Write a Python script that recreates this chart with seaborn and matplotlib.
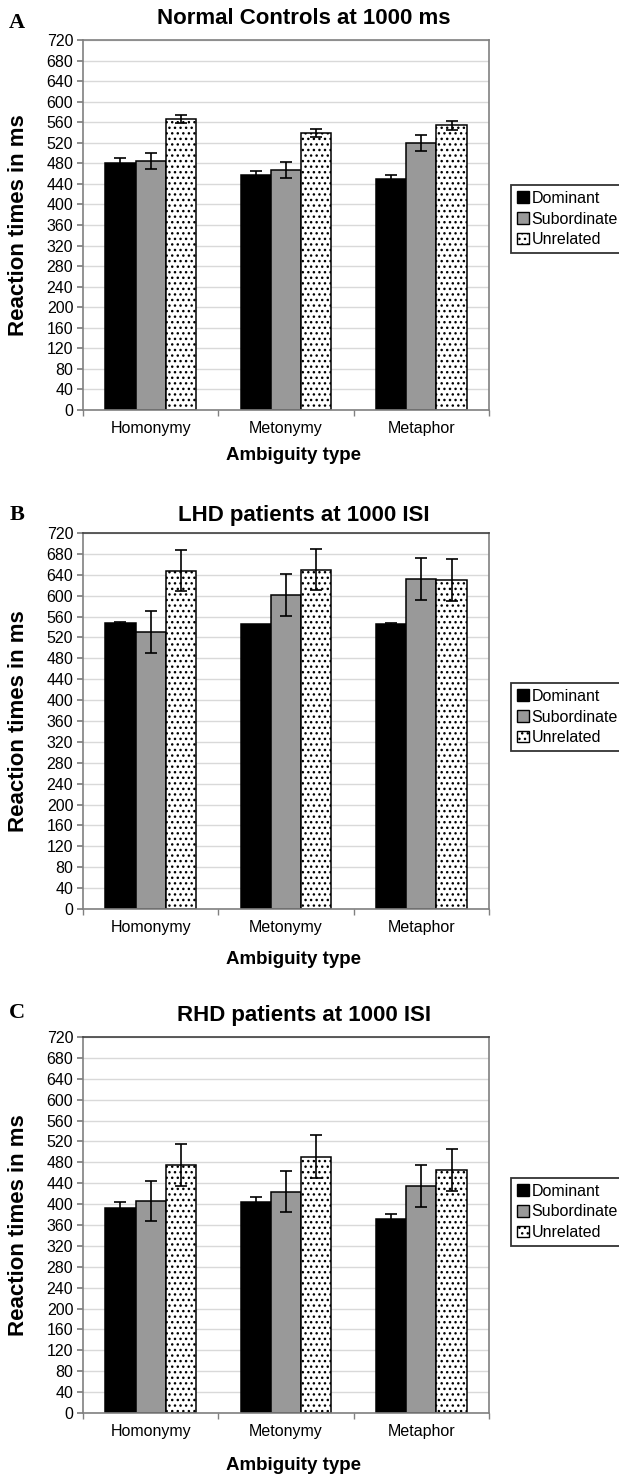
import numpy as np
import pandas as pd
import matplotlib
matplotlib.use("Agg")
import matplotlib.pyplot as plt
from matplotlib.patches import Patch
import seaborn as sns

# ---------------- data ----------------
types = ["Homonymy", "Metonymy", "Metaphor"]
conditions = ["Dominant", "Subordinate", "Unrelated"]
yticks = list(range(0, 721, 40))

panel_letters = ["A", "B", "C"]
panel_titles = ["Normal Controls at 1000 ms", "LHD patients at 1000 ISI", "RHD patients at 1000 ISI"]

a_dominant = [481, 458, 449]
a_subordinate = [484, 467, 520]
a_unrelated = [566, 539, 554]
a_dominant_err = [9, 8, 8]
a_subordinate_err = [16, 15, 16]
a_unrelated_err = [8, 8, 9]

b_dominant = [548, 545, 545]
b_subordinate = [530, 601, 632]
b_unrelated = [648, 650, 630]
b_dominant_err = [2, 0, 2]
b_subordinate_err = [40, 40, 40]
b_unrelated_err = [40, 40, 40]

c_dominant = [392, 404, 371]
c_subordinate = [406, 424, 435]
c_unrelated = [475, 491, 466]
c_dominant_err = [12, 9, 11]
c_subordinate_err = [39, 40, 40]
c_unrelated_err = [40, 41, 40]

panels = [
    (a_dominant, a_subordinate, a_unrelated, a_dominant_err, a_subordinate_err, a_unrelated_err),
    (b_dominant, b_subordinate, b_unrelated, b_dominant_err, b_subordinate_err, b_unrelated_err),
    (c_dominant, c_subordinate, c_unrelated, c_dominant_err, c_subordinate_err, c_unrelated_err),
]

# ---------------- style ----------------
sns.set_theme(style="white")
plt.rcParams["font.family"] = ["Liberation Sans", "DejaVu Sans"]
plt.rcParams["text.color"] = "black"
plt.rcParams["xtick.color"] = "black"
plt.rcParams["ytick.color"] = "black"
plt.rcParams["hatch.linewidth"] = 1.0
plt.rcParams["hatch.color"] = "black"

W, H = 619, 1475
fig = plt.figure(figsize=(W / 100, H / 100), dpi=100)

palette = {"Dominant": "black", "Subordinate": "#999999", "Unrelated": "white"}
hatch = "..."

# pixel layout (top, bottom) of each axes
ax_px = [(40, 410), (533, 909), (1037, 1413)]
title_y = [18, 515, 1015]
letter_y = [23, 515, 1013]
xlabel_y = [455, 959, 1465]
legend_y = [219, 717, 1212]
left_px, right_px = 83, 489


def fx(px):
    return px / W


def fy(py):
    return 1 - py / H


for k, (dom, sub, unr, dom_e, sub_e, unr_e) in enumerate(panels):
    top, bot = ax_px[k]
    ax = fig.add_axes([fx(left_px), fy(bot), fx(right_px - left_px), (bot - top) / H])

    df = pd.DataFrame({
        "type": types * 3,
        "cond": [c for c in conditions for _ in types],
        "rt": list(dom) + list(sub) + list(unr),
    })
    sns.barplot(data=df, x="type", y="rt", hue="cond", order=types, hue_order=conditions,
                palette=palette, saturation=1, edgecolor="black", linewidth=1.1,
                width=0.67, errorbar=None, legend=False, ax=ax, zorder=2)

    errs = [dom_e, sub_e, unr_e]
    bar_containers = list(ax.containers)
    for ci, cont in enumerate(bar_containers):
        for j, bar in enumerate(cont.patches):
            if ci == 2:
                bar.set_hatch(hatch)
            xc = bar.get_x() + bar.get_width() / 2
            yv = bar.get_height()
            e = errs[ci][j]
            if e > 0:
                ax.errorbar(xc, yv, yerr=e, color="black", elinewidth=1.2,
                            capsize=4.3, capthick=1.2, zorder=3)

    ax.set_xlim(-0.5, 2.5)
    ax.set_ylim(0, 720)
    ax.set_yticks(yticks)
    ax.set_yticklabels([str(t) for t in yticks], fontsize=11.5)
    ax.yaxis.grid(True, color="#d9d9d9", linewidth=1.0, zorder=0)
    ax.set_axisbelow(True)
    ax.set_xticks(range(3))
    ax.set_xticklabels(types, fontsize=11.5)
    ax.set_xticks([-0.5, 0.5, 1.5, 2.5], minor=True)
    ax.tick_params(axis="x", which="major", length=0, pad=8)
    ax.tick_params(axis="x", which="minor", length=4, color="#808080", direction="out", bottom=True)
    ax.tick_params(axis="y", length=4, color="#808080", labelcolor="black", direction="out",
                   left=True, pad=3)
    ax.set_xlabel("")
    ax.set_ylabel("")
    for side, sp in ax.spines.items():
        sp.set_color("#808080")
        sp.set_linewidth(1.2)
    if k > 0:
        ax.spines["top"].set_color("#404040")

    fig.text(fx(304), fy(title_y[k]), panel_titles[k], ha="center", va="center",
             fontsize=16, fontweight="bold")
    fig.text(fx(17), fy(letter_y[k]), panel_letters[k], ha="center", va="center",
             fontsize=16, fontweight="bold", family=["Liberation Serif", "DejaVu Serif"])
    fig.text(fx(293), fy(xlabel_y[k]), "Ambiguity type", ha="center", va="center",
             fontsize=13.5, fontweight="bold")
    fig.text(fx(19), fy((top + bot) / 2), "Reaction times in ms", ha="center", va="center",
             rotation=90, fontsize=16, fontweight="bold")

    handles = [Patch(facecolor=palette[c], edgecolor="black", linewidth=1.0,
                     hatch=(hatch if c == "Unrelated" else None)) for c in conditions]
    leg = fig.legend(handles, conditions, loc="center left",
                     bbox_to_anchor=(fx(511), fy(legend_y[k])), fontsize=11.5,
                     frameon=True, fancybox=False, edgecolor="black", borderpad=0.35,
                     handlelength=0.75, handleheight=0.75, handletextpad=0.2,
                     labelspacing=0.35, borderaxespad=0)
    leg.get_frame().set_linewidth(1.3)

fig.savefig("out.png", dpi=100, facecolor="white")
